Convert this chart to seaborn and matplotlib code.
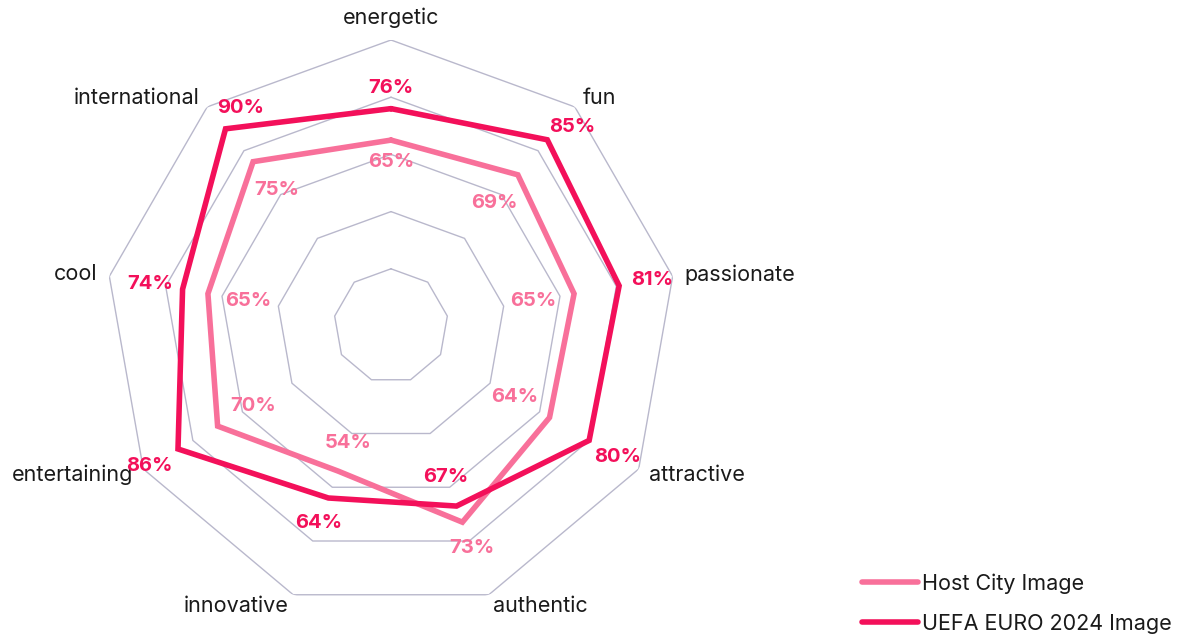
import numpy as np
import matplotlib
matplotlib.use("Agg")
import matplotlib.pyplot as plt
import matplotlib.patheffects as pe
import seaborn as sns

categories = ["energetic", "fun", "passionate", "attractive", "authentic",
              "innovative", "entertaining", "cool", "international"]
host_city = [65, 69, 65, 64, 73, 54, 70, 65, 75]
uefa_euro = [76, 85, 81, 80, 67, 64, 86, 74, 90]
series_names = ["Host City Image", "UEFA EURO 2024 Image"]
ring_levels = [20, 40, 60, 80, 100]

HOST_COLOR = "#F8709A"
UEFA_COLOR = "#F3105A"
GRID_COLOR = "#B9B8CC"
TEXT_COLOR = "#1a1a1a"

# hand-placed label offsets (pixels) where the default would collide with axis names
label_nudges = {(1, "fun"): (25, 13), (1, "international"): (15, 21)}

sns.set_theme(style="white")
plt.rcParams["font.family"] = ["Inter", "DejaVu Sans"]

fig = plt.figure(figsize=(11.81, 6.36), dpi=100)
W, H = 1181, 636
cx, cy, R = 391, 326, 286
ax = fig.add_axes([(cx - R) / W, (H - cy - R) / H, 2 * R / W, 2 * R / H],
                  projection="polar")
ax.set_theta_offset(np.pi / 2)
ax.set_theta_direction(-1)
ax.set_ylim(0, 100)
ax.grid(False)
ax.set_xticks([])
ax.set_yticks([])
ax.spines["polar"].set_visible(False)
ax.set_facecolor("none")

n = len(categories)
theta = np.linspace(0, 2 * np.pi, n, endpoint=False)
theta_closed = np.append(theta, theta[0])

# polygonal grid rings
for lvl in ring_levels:
    ax.plot(theta_closed, [lvl] * (n + 1), color=GRID_COLOR, lw=1.0, zorder=1)


def shadow(lw):
    return [
        pe.SimpleLineShadow(offset=(3, -3), shadow_color="black", alpha=0.05, linewidth=lw + 8),
        pe.SimpleLineShadow(offset=(2, -2), shadow_color="black", alpha=0.07, linewidth=lw + 4),
        pe.SimpleLineShadow(offset=(1.5, -1.5), shadow_color="black", alpha=0.08, linewidth=lw + 1),
        pe.Normal(),
    ]


lw = 4.0
for vals, color, name, z in [(host_city, HOST_COLOR, series_names[0], 3),
                             (uefa_euro, UEFA_COLOR, series_names[1], 4)]:
    closed = np.append(vals, vals[0])
    sns.lineplot(x=theta_closed, y=closed, sort=False, ax=ax, color=color,
                 lw=lw, zorder=z, label=name, solid_joinstyle="miter",
                 path_effects=shadow(lw), estimator=None)
if ax.get_legend() is not None:
    ax.get_legend().remove()
ax.set_xlabel("")
ax.set_ylabel("")

# value labels: larger value outside its vertex, smaller one inside
for i, t in enumerate(theta):
    phi = np.pi / 2 - t
    ux, uy = np.cos(phi), np.sin(phi)
    hi = max(host_city[i], uefa_euro[i])
    for s, (v, color) in enumerate([(host_city[i], HOST_COLOR), (uefa_euro[i], UEFA_COLOR)]):
        if v == hi:
            dist = 13 + 19 * abs(ux) + 8 * abs(uy)
            off = (dist * ux, dist * uy)
        else:
            dist = 14 + 26 * abs(ux) + 8 * abs(uy)
            off = (-dist * ux, -dist * uy)
        off = label_nudges.get((s, categories[i]), off)
        ax.annotate(f"{v}%", xy=(t, v), xytext=off,
                    textcoords="offset pixels", ha="center", va="center",
                    color=color, fontsize=14.5, fontweight="bold", zorder=6,
                    annotation_clip=False)

# category labels around the outer ring
for i, t in enumerate(theta):
    phi = np.pi / 2 - t
    ux, uy = np.cos(phi), np.sin(phi)
    ha = "left" if ux > 0.2 else ("right" if ux < -0.2 else "center")
    va = "bottom" if uy > 0.95 else "center"
    off = 12
    ax.annotate(categories[i], xy=(t, 100), xytext=(off * ux, off * uy),
                textcoords="offset pixels", ha=ha, va=va, color=TEXT_COLOR,
                fontsize=15.5, annotation_clip=False)

handles, labels = ax.get_legend_handles_labels()
for h in handles:
    h.set_path_effects([])
    h.set_solid_capstyle("round")
fig.legend(handles, labels, loc="lower left",
           bbox_to_anchor=(862 / W, 2 / H), frameon=False, fontsize=15.5,
           handlelength=2.6, handletextpad=0.2, labelspacing=0.95,
           labelcolor=TEXT_COLOR, borderaxespad=0, borderpad=0)

fig.savefig("out.png", dpi=100)
